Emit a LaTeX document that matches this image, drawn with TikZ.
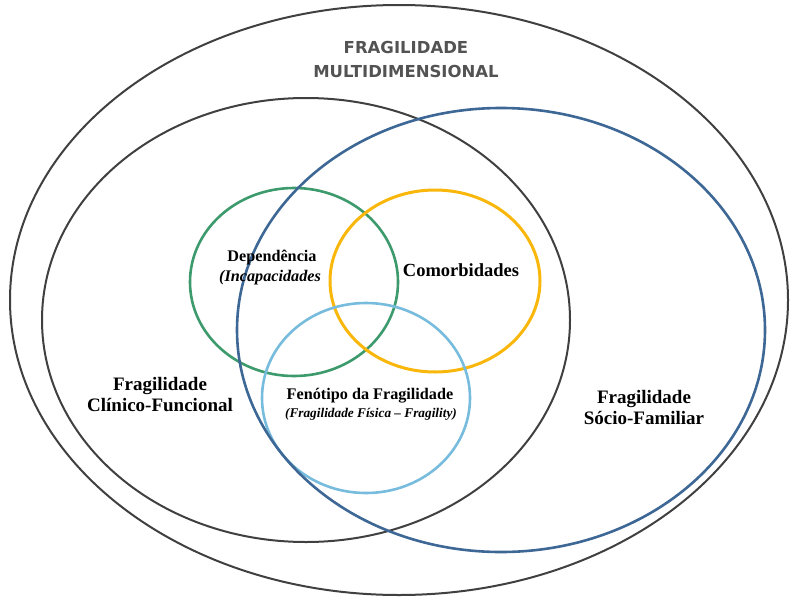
\documentclass[tikz,border=0pt]{standalone}
\usepackage{fontspec}
\setmainfont{Liberation Serif}
\newfontfamily\titulofonte{DejaVu Sans}

\definecolor{cinza}{HTML}{404040}
\definecolor{azul}{HTML}{3D6795}
\definecolor{verde}{HTML}{3C9A6C}
\definecolor{amarelo}{HTML}{F8B70A}
\definecolor{celeste}{HTML}{78BCDD}

\tikzstyle{contorno}= [draw=cinza,line width=2pt]
\tikzstyle{conjunto}= [line width=2.6pt]
\tikzstyle{titulo}= [font=\titulofonte\bfseries\fontsize{16.5}{20}\selectfont,text=cinza!90,inner sep=0pt]
\tikzstyle{rotulo}= [font=\fontsize{19}{21}\selectfont\bfseries,align=center,inner sep=0pt]
\tikzstyle{interno}= [font=\fontsize{16.2}{18}\selectfont\bfseries,inner sep=0pt]
\tikzstyle{nota}= [font=\fontsize{13.3}{15}\selectfont\bfseries\itshape,inner sep=0pt]

\begin{document}
\begin{tikzpicture}[x=1pt,y=-1pt]
		\useasboundingbox (0,0) rectangle (792,597);

		\draw[contorno] (399,300) ellipse [x radius=389pt, y radius=295pt];
		\draw[contorno] (306,320) ellipse [x radius=264pt, y radius=222pt];

		\draw[conjunto,verde] (294,282) ellipse [x radius=104pt, y radius=94pt];
		\draw[conjunto,amarelo,line width=3pt] (435,281) ellipse [x radius=105pt, y radius=91pt];
		\draw[conjunto,celeste] (366,398) ellipse [x radius=104pt, y radius=95pt];
		\draw[conjunto,azul] (501,330) ellipse [x radius=264pt, y radius=222pt];

		\node (t1) at (406,47) [titulo] {FRAGILIDADE};
		\node (t2) at (406,71) [titulo] {MULTIDIMENSIONAL};

		\node (clinica) at (160,395) [rotulo] {Fragilidade\\Clínico-Funcional};
		\node (social) at (644,407) [rotulo] {Fragilidade\\Sócio-Familiar};

		\node (dep) at (272,258) [interno] {Dependência};
		\node (inc) at (270,278) [interno,font=\fontsize{16.2}{18}\selectfont\bfseries\itshape] {(Incapacidades};

		\node (com) at (461,270) [interno,font=\fontsize{18.5}{21}\selectfont\bfseries] {Comorbidades};

		\node (fen) at (370,396) [interno] {Fenótipo da Fragilidade};
		\node (fis) at (371,414) [nota] {(Fragilidade Física – Fragility)};

	\end{tikzpicture}
\end{document}
